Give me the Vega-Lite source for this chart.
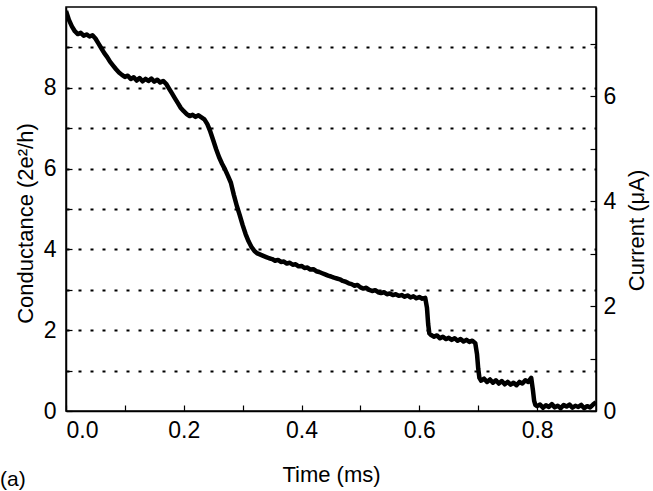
{
  "$schema": "https://vega.github.io/schema/vega-lite/v6.json",
  "autosize": {"type": "none"},
  "padding": {"left": 66, "top": 7, "right": 57, "bottom": 80},
  "width": 530,
  "height": 404,
  "background": "white",
  "title": {"text": "(a)", "orient": "bottom", "anchor": "start", "frame": "group", "dx": -66, "offset": -16, "fontSize": 21, "fontWeight": "normal", "font": "Liberation Sans", "color": "black"},
  "config": {
    "view": {"stroke": "black", "strokeWidth": 1.5},
    "axis": {"labelFont": "Liberation Sans", "titleFont": "Liberation Sans", "labelFontSize": 23, "titleFontSize": 22, "titleFontWeight": "normal", "labelColor": "black", "titleColor": "black", "domainColor": "black", "domainWidth": 1.5, "tickColor": "black", "tickWidth": 1.2, "tickSize": -6}
  },
  "datasets": {
    "trace": [
      {"t":0.000,"G":9.90},{"t":0.005,"G":9.68},{"t":0.010,"G":9.52},{"t":0.015,"G":9.40},{"t":0.020,"G":9.33},
      {"t":0.025,"G":9.36},{"t":0.030,"G":9.29},{"t":0.035,"G":9.32},{"t":0.040,"G":9.27},{"t":0.045,"G":9.30},
      {"t":0.050,"G":9.22},{"t":0.055,"G":9.10},{"t":0.060,"G":8.98},{"t":0.065,"G":8.86},{"t":0.070,"G":8.76},
      {"t":0.075,"G":8.64},{"t":0.080,"G":8.55},{"t":0.085,"G":8.46},{"t":0.090,"G":8.38},{"t":0.095,"G":8.32},
      {"t":0.100,"G":8.27},{"t":0.105,"G":8.30},{"t":0.110,"G":8.22},{"t":0.115,"G":8.26},{"t":0.120,"G":8.18},
      {"t":0.125,"G":8.24},{"t":0.130,"G":8.16},{"t":0.135,"G":8.22},{"t":0.140,"G":8.17},{"t":0.145,"G":8.23},
      {"t":0.150,"G":8.15},{"t":0.155,"G":8.20},{"t":0.160,"G":8.13},{"t":0.165,"G":8.17},{"t":0.170,"G":8.10},
      {"t":0.175,"G":7.98},{"t":0.180,"G":7.86},{"t":0.185,"G":7.74},{"t":0.190,"G":7.62},{"t":0.195,"G":7.50},
      {"t":0.200,"G":7.42},{"t":0.205,"G":7.35},{"t":0.210,"G":7.30},{"t":0.215,"G":7.33},{"t":0.220,"G":7.28},
      {"t":0.225,"G":7.32},{"t":0.230,"G":7.27},{"t":0.235,"G":7.22},{"t":0.240,"G":7.10},{"t":0.245,"G":6.92},
      {"t":0.250,"G":6.70},{"t":0.255,"G":6.48},{"t":0.260,"G":6.28},{"t":0.265,"G":6.12},{"t":0.270,"G":5.98},
      {"t":0.275,"G":5.82},{"t":0.280,"G":5.65},{"t":0.285,"G":5.35},{"t":0.290,"G":5.08},{"t":0.295,"G":4.85},
      {"t":0.300,"G":4.60},{"t":0.305,"G":4.38},{"t":0.310,"G":4.20},{"t":0.315,"G":4.06},{"t":0.320,"G":3.96},
      {"t":0.325,"G":3.90},{"t":0.330,"G":3.87},{"t":0.335,"G":3.84},{"t":0.340,"G":3.81},{"t":0.345,"G":3.78},
      {"t":0.350,"G":3.76},{"t":0.355,"G":3.72},{"t":0.360,"G":3.74},{"t":0.365,"G":3.69},{"t":0.370,"G":3.70},
      {"t":0.375,"G":3.65},{"t":0.380,"G":3.67},{"t":0.385,"G":3.62},{"t":0.390,"G":3.63},{"t":0.395,"G":3.58},
      {"t":0.400,"G":3.59},{"t":0.405,"G":3.54},{"t":0.410,"G":3.55},{"t":0.415,"G":3.50},{"t":0.420,"G":3.51},
      {"t":0.425,"G":3.46},{"t":0.430,"G":3.44},{"t":0.435,"G":3.41},{"t":0.440,"G":3.38},{"t":0.445,"G":3.35},
      {"t":0.450,"G":3.33},{"t":0.455,"G":3.30},{"t":0.460,"G":3.28},{"t":0.465,"G":3.26},{"t":0.470,"G":3.22},
      {"t":0.475,"G":3.20},{"t":0.480,"G":3.16},{"t":0.485,"G":3.14},{"t":0.490,"G":3.10},{"t":0.495,"G":3.12},
      {"t":0.500,"G":3.06},{"t":0.505,"G":3.03},{"t":0.510,"G":3.05},{"t":0.515,"G":3.00},{"t":0.520,"G":2.97},
      {"t":0.525,"G":2.99},{"t":0.530,"G":2.94},{"t":0.535,"G":2.92},{"t":0.540,"G":2.94},{"t":0.545,"G":2.89},
      {"t":0.550,"G":2.91},{"t":0.555,"G":2.87},{"t":0.560,"G":2.89},{"t":0.565,"G":2.85},{"t":0.570,"G":2.87},
      {"t":0.575,"G":2.83},{"t":0.580,"G":2.86},{"t":0.585,"G":2.81},{"t":0.590,"G":2.84},{"t":0.595,"G":2.79},
      {"t":0.600,"G":2.82},{"t":0.605,"G":2.78},{"t":0.610,"G":2.80},{"t":0.613,"G":2.55},{"t":0.615,"G":2.15},
      {"t":0.617,"G":1.92},{"t":0.620,"G":1.88},{"t":0.625,"G":1.84},{"t":0.630,"G":1.87},{"t":0.635,"G":1.80},
      {"t":0.640,"G":1.84},{"t":0.645,"G":1.78},{"t":0.650,"G":1.81},{"t":0.655,"G":1.76},{"t":0.660,"G":1.80},
      {"t":0.665,"G":1.74},{"t":0.670,"G":1.78},{"t":0.675,"G":1.72},{"t":0.680,"G":1.76},{"t":0.685,"G":1.71},
      {"t":0.690,"G":1.74},{"t":0.695,"G":1.68},{"t":0.698,"G":1.40},{"t":0.700,"G":1.05},{"t":0.702,"G":0.82},
      {"t":0.705,"G":0.75},{"t":0.710,"G":0.80},{"t":0.715,"G":0.72},{"t":0.720,"G":0.78},{"t":0.725,"G":0.70},
      {"t":0.730,"G":0.76},{"t":0.735,"G":0.68},{"t":0.740,"G":0.74},{"t":0.745,"G":0.66},{"t":0.750,"G":0.72},
      {"t":0.755,"G":0.65},{"t":0.760,"G":0.70},{"t":0.765,"G":0.64},{"t":0.770,"G":0.72},{"t":0.775,"G":0.68},
      {"t":0.780,"G":0.76},{"t":0.785,"G":0.72},{"t":0.790,"G":0.82},{"t":0.793,"G":0.50},{"t":0.795,"G":0.25},
      {"t":0.797,"G":0.15},{"t":0.800,"G":0.12},{"t":0.805,"G":0.16},{"t":0.810,"G":0.08},{"t":0.815,"G":0.14},
      {"t":0.820,"G":0.10},{"t":0.825,"G":0.17},{"t":0.830,"G":0.09},{"t":0.835,"G":0.13},{"t":0.840,"G":0.07},
      {"t":0.845,"G":0.15},{"t":0.850,"G":0.11},{"t":0.855,"G":0.16},{"t":0.860,"G":0.08},{"t":0.865,"G":0.13},
      {"t":0.870,"G":0.10},{"t":0.875,"G":0.15},{"t":0.880,"G":0.07},{"t":0.885,"G":0.12},{"t":0.890,"G":0.09},
      {"t":0.895,"G":0.16},{"t":0.900,"G":0.22}
    ],
    "currentRange": [{"I": 0}, {"I": 7.7}]
  },
  "layer": [
    {
      "data": {"name": "trace"},
      "mark": {"type": "line", "color": "black", "strokeWidth": 4.5, "strokeJoin": "round", "clip": true},
      "encoding": {
        "x": {"field": "t", "type": "quantitative", "scale": {"domain": [0, 0.9], "nice": false},
          "axis": {"title": "Time (ms)", "values": [0, 0.1, 0.2, 0.3, 0.4, 0.5, 0.6, 0.7, 0.8], "labelExpr": "(round(datum.value*10) % 2 == 0) ? format(datum.value, '.1f') : ''", "labelPadding": 14, "titlePadding": 22, "grid": false}},
        "y": {"field": "G", "type": "quantitative", "scale": {"domain": [0, 10], "nice": false},
          "axis": {"title": "Conductance (2e²/h)", "orient": "left", "values": [0, 1, 2, 3, 4, 5, 6, 7, 8, 9], "labelExpr": "(datum.value % 2 == 0) ? format(datum.value, 'd') : ''", "labelPadding": 16, "titlePadding": 6, "titleY": 216, "grid": true, "gridColor": "black", "gridDash": [3, 9], "gridWidth": 2, "gridOpacity": {"condition": {"test": "datum.value == 0", "value": 0}, "value": 1}}}
      }
    },
    {
      "data": {"name": "currentRange"},
      "mark": {"type": "point", "opacity": 0},
      "encoding": {
        "y": {"field": "I", "type": "quantitative", "scale": {"domain": [0, 7.7], "nice": false},
          "axis": {"title": "Current (μA)", "orient": "right", "values": [0, 1, 2, 3, 4, 5, 6, 7], "labelExpr": "(datum.value % 2 == 0) ? format(datum.value, 'd') : ''", "labelPadding": 13, "titlePadding": 11, "titleAngle": 270, "titleBaseline": "top", "titleY": 223, "grid": false}}
      }
    }
  ],
  "resolve": {"scale": {"y": "independent"}}
}
